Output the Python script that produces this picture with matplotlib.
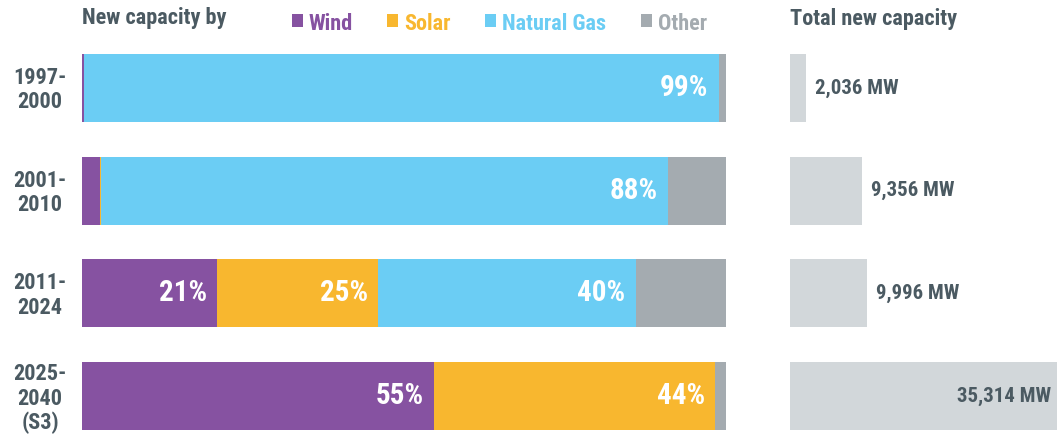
import matplotlib
matplotlib.use("Agg")
import matplotlib.pyplot as plt
from matplotlib import font_manager as fm

# ---- data ----
periods = ["1997-\n2000", "2001-\n2010", "2011-\n2024", "2025-\n2040\n(S3)"]
sources = ["Wind", "Solar", "Natural Gas", "Other"]
wind = [0.3, 2.8, 21.0, 54.6]
solar = [0.0, 0.2, 25.0, 43.7]
natural_gas = [98.6, 88.0, 40.0, 0.0]
other = [1.1, 9.0, 14.0, 1.7]
total_mw = [2036, 9356, 9996, 35314]

colors = {"Wind": "#8652A1", "Solar": "#F8B72F", "Natural Gas": "#6BCDF4", "Other": "#A4ABB0"}
total_color = "#D2D7DA"
text_color = "#4B5A62"

# ---- font ----
avail = {f.name for f in fm.fontManager.ttflist}
fam = "DejaVu Sans"
for cand in ["Liberation Sans Narrow", "Roboto Condensed", "Open Sans Condensed", "DejaVu Sans Condensed", "Roboto"]:
    if cand in avail:
        fam = cand
        break
plt.rcParams["font.family"] = [fam, "DejaVu Sans"]
plt.rcParams["font.weight"] = "bold"

W, H = 1057, 434
fig = plt.figure(figsize=(W / 100, H / 100), dpi=100)
fig.patch.set_facecolor("white")

def fx(px):
    return px / W

def fy(py):
    return 1 - py / H

bar_h = 68 / 102.67
top_px, bot_px = 54, 430

axL = fig.add_axes([fx(82), fy(bot_px), fx(726 - 82), (bot_px - top_px) / H])
axR = fig.add_axes([fx(790), fy(bot_px), fx(W - 790), (bot_px - top_px) / H])

ypos = list(range(len(periods)))
series = [wind, solar, natural_gas, other]
left = [0.0] * len(periods)
for name, vals in zip(sources, series):
    axL.barh(ypos, vals, left=left, height=bar_h, color=colors[name], linewidth=0)
    for i, v in enumerate(vals):
        if name != "Other" and v >= 15:
            axL.text(left[i] + v - 1.6, i, f"{round(v)}%", ha="right", va="center",
                     color="white", fontsize=21, fontweight="bold")
    left = [l + v for l, v in zip(left, vals)]

axL.set_xlim(0, 100)
axL.set_ylim(len(periods) - 1 + bar_h / 2, -bar_h / 2)
axL.axis("off")

# category labels, one line at a time, aligned to each bar's centre
for i, p in enumerate(periods):
    lines = p.split("\n")
    # bar centre in display pixels -> figure pixels from top
    _, cy = axL.transData.transform((0, i))
    center = H - cy
    first = center + 20 - 12 * len(lines)
    for k, ln in enumerate(lines):
        fig.text(fx(40), fy(first + 24.5 * k), ln, ha="center", va="baseline",
                 color=text_color, fontsize=16, fontweight="bold")

xmax_r = (W - 790) / 0.00767
axR.barh(ypos, total_mw, height=bar_h, color=total_color, linewidth=0)
axR.set_xlim(0, xmax_r)
axR.set_ylim(len(periods) - 1 + bar_h / 2, -bar_h / 2)
axR.axis("off")
for i, v in enumerate(total_mw):
    lab = f"{v:,} MW"
    if v > xmax_r * 0.8:
        axR.annotate(lab, (xmax_r, i), xytext=(-6, 0), textcoords="offset pixels",
                     ha="right", va="center", color=text_color, fontsize=15, fontweight="bold")
    else:
        axR.annotate(lab, (v, i), xytext=(9, 0), textcoords="offset pixels",
                     ha="left", va="center", color=text_color, fontsize=15, fontweight="bold")

# header
fig.text(fx(82), fy(24), "New capacity by", ha="left", va="baseline", color=text_color,
         fontsize=16, fontweight="bold")
fig.text(fx(790), fy(25), "Total new capacity", ha="left", va="baseline", color=text_color,
         fontsize=16, fontweight="bold")
leg_x = {"Wind": 292, "Solar": 387, "Natural Gas": 485, "Other": 641}
for name in sources:
    x0 = leg_x[name]
    fig.patches.append(plt.Rectangle((fx(x0), fy(27)), fx(11), 13 / H, transform=fig.transFigure,
                                     color=colors[name], linewidth=0))
    fig.text(fx(x0 + 17), fy(30), name, ha="left", va="baseline", color=colors[name],
             fontsize=16, fontweight="bold")

fig.savefig("out.png", dpi=100, facecolor="white")
